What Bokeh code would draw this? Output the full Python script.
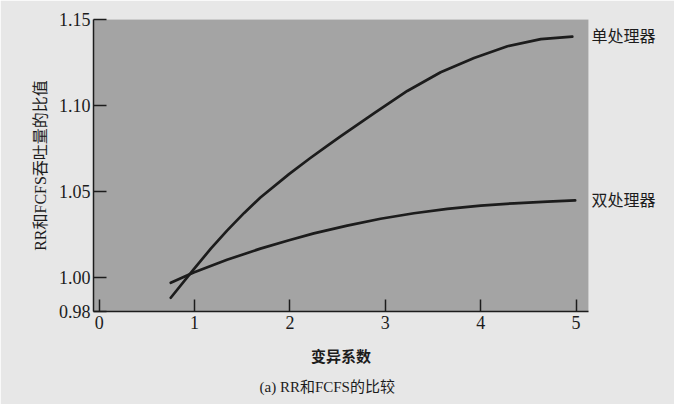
from bokeh.plotting import figure
from bokeh.models import FixedTicker, Title, Range1d, LinearAxis
from bokeh.embed import file_html
from bokeh.resources import INLINE

# ---- data ----
x_single = [0.75, 0.99, 1.17, 1.34, 1.52, 1.69, 1.99, 2.21, 2.39, 2.53, 2.88, 3.23, 3.58, 3.93, 4.28, 4.63, 4.96]
y_single = [0.9880, 1.0045, 1.0166, 1.0271, 1.0374, 1.0464, 1.0600, 1.0692, 1.0764, 1.0819, 1.0953, 1.1084, 1.1193, 1.1276, 1.1344, 1.1386, 1.1400]
x_dual = [0.75, 0.99, 1.34, 1.69, 1.99, 2.25, 2.60, 2.95, 3.30, 3.65, 4.00, 4.35, 4.70, 4.99]
y_dual = [0.9967, 1.0027, 1.0101, 1.0166, 1.0215, 1.0255, 1.0300, 1.0340, 1.0372, 1.0397, 1.0416, 1.0430, 1.0440, 1.0447]
series_names = ["单处理器", "双处理器"]
x_ticks = [0, 1, 2, 3, 4, 5]
y_ticks = [0.98, 1.00, 1.05, 1.10, 1.15]
y_tick_labels = ["0.98", "1.00", "1.05", "1.10", "1.15"]
x_title = "变异系数"
y_title = "RR和FCFS吞吐量的比值"
caption = "(a) RR和FCFS的比较"

SERIF = "'Liberation Serif', 'Noto Sans CJK SC'"
INK = "#1c1c1c"

p = figure(width=674, height=404, output_backend="svg", toolbar_location=None,
           x_range=Range1d(-0.06, 5.13), y_range=Range1d(0.98, 1.15),
           min_border_left=93, min_border_right=86, min_border_top=19, min_border_bottom=93)
p.background_fill_color = "#a4a4a4"
p.border_fill_color = "#e7e7e7"
p.outline_line_color = None
p.xgrid.visible = False
p.ygrid.visible = False

for ax in (p.xaxis[0], p.yaxis[0]):
    ax.axis_line_color = INK
    ax.axis_line_width = 1.5
    ax.major_tick_line_color = INK
    ax.major_tick_line_width = 1.5
    ax.major_tick_out = 0
    ax.minor_tick_line_color = None
    ax.major_label_text_font = SERIF
    ax.major_label_text_font_size = "18px"
    ax.major_label_text_color = INK
    ax.axis_label_text_font = SERIF
    ax.axis_label_text_color = INK
    ax.axis_label_text_font_style = "normal"

p.xaxis.ticker = FixedTicker(ticks=x_ticks)
p.xaxis.major_tick_in = 12
p.xaxis.major_label_standoff = 4
p.xaxis.axis_label = x_title
p.xaxis.axis_label_text_font_size = "15px"
p.xaxis.axis_label_text_font_style = "bold"
p.xaxis.axis_label_standoff = 17

p.yaxis.ticker = FixedTicker(ticks=y_ticks)
p.yaxis.major_label_overrides = {t: s for t, s in zip(y_ticks, y_tick_labels)}
p.yaxis.major_tick_in = 13
p.yaxis.major_label_standoff = 3
p.yaxis.axis_label = y_title
p.yaxis.axis_label_text_font_size = "16px"
p.yaxis.axis_label_standoff = 7

p.line(x_single, y_single, line_color=INK, line_width=2.7, line_join="round", line_cap="round")
p.line(x_dual, y_dual, line_color=INK, line_width=2.7, line_join="round", line_cap="round")

# series names written at the curve ends, on the right side of the frame
end_vals = [y_single[-1], y_dual[-1]]
name_axis = LinearAxis(ticker=FixedTicker(ticks=end_vals),
                       major_label_overrides={v: n for v, n in zip(end_vals, series_names)},
                       axis_line_color=None, major_tick_line_color=None, minor_tick_line_color=None,
                       major_tick_in=0, major_tick_out=0, major_label_standoff=3,
                       major_label_text_font=SERIF, major_label_text_font_size="16px",
                       major_label_text_color=INK)
p.add_layout(name_axis, "right")

p.add_layout(Title(text=caption, align="left", offset=166, standoff=19, text_font=SERIF,
                   text_font_size="15px", text_font_style="normal", text_color=INK), "below")

open("out.html", "w").write(file_html(p, INLINE))
